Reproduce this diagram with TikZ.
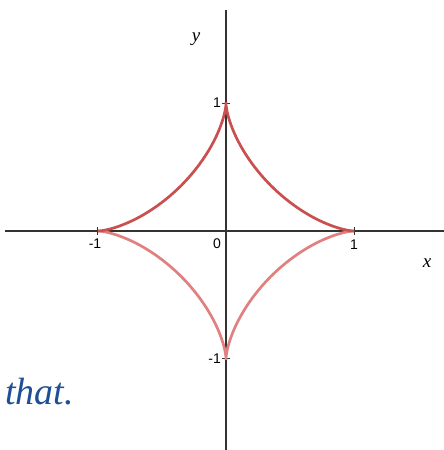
\documentclass[tikz,border=0pt]{standalone}
\usepackage{fontspec}
\setmainfont{Liberation Serif}
\setsansfont{Liberation Sans}
\begin{document}
\begin{tikzpicture}[x=1pt,y=-1pt,
  axisline/.style={line width=1.4pt, draw=black!80},
  tickmark/.style={line width=1pt, draw=black!80},
  upcurve/.style={line width=2.7pt, draw=upred},
  lowcurve/.style={line width=2.7pt, draw=lowred},
  numlabel/.style={font=\sffamily\fontsize{14}{14}\selectfont, inner sep=0pt},
  axlabel/.style={font=\itshape\fontsize{19}{19}\selectfont, inner sep=0pt}]
\definecolor{upred}{HTML}{C9504F}
\definecolor{lowred}{HTML}{E08080}
\definecolor{hand}{HTML}{1F4F94}
\useasboundingbox (0,0) rectangle (444,450);
\coordinate (xl) at (5,231);
\coordinate (xr) at (444,231);
\coordinate (yt) at (226,10);
\coordinate (yb) at (226,450);
\draw[axisline] (xl) -- (xr);
\draw[axisline] (yt) -- (yb);
% ticks
\coordinate (tx1a) at (97.5,227); \coordinate (tx1b) at (97.5,235);
\coordinate (tx2a) at (354,227); \coordinate (tx2b) at (354,235);
\coordinate (ty1a) at (222,103.5); \coordinate (ty1b) at (230,103.5);
\coordinate (ty2a) at (222,358.5); \coordinate (ty2b) at (230,358.5);
\draw[tickmark] (tx1a) -- (tx1b);
\draw[tickmark] (tx2a) -- (tx2b);
\draw[tickmark] (ty1a) -- (ty1b);
\draw[tickmark] (ty2a) -- (ty2b);
% astroid
\draw[lowcurve] plot[domain=180:360, samples=160, smooth]
  ({226+128*cos(\x)*cos(\x)*cos(\x)}, {231-127.5*sin(\x)*sin(\x)*sin(\x)});
\draw[upcurve] plot[domain=0:180, samples=160, smooth]
  ({226+128*cos(\x)*cos(\x)*cos(\x)}, {231-127.5*sin(\x)*sin(\x)*sin(\x)});
% labels
\node[numlabel] (lm1x) at (95,244) {-1};
\node[numlabel] (l0) at (217,244) {0};
\node[numlabel] (l1x) at (354,245) {1};
\node[numlabel, anchor=east] (l1y) at (221,103) {1};
\node[numlabel, anchor=east] (lm1y) at (221,359) {-1};
\node[axlabel] (xlab) at (427,263) {x};
\node[axlabel] (ylab) at (196,39) {y};
\node[font=\itshape\fontsize{38}{38}\selectfont, text=hand, inner sep=0pt, anchor=west] (that) at (5,392) {that.};
\end{tikzpicture}
\end{document}
